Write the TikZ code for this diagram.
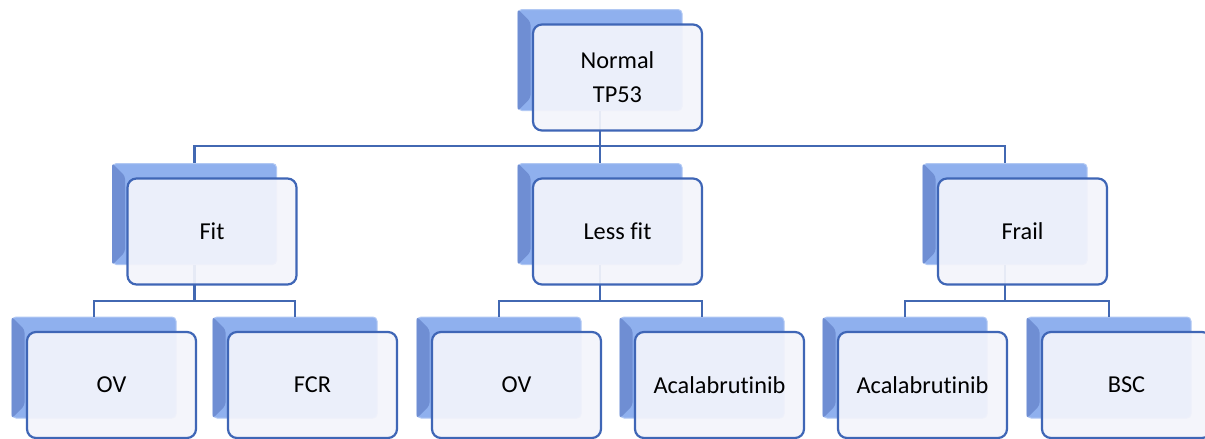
\documentclass[tikz,border=0pt]{standalone}
\usepackage{fontspec}
\setmainfont{Carlito}[Ligatures=NoCommon]
\definecolor{backblue}{HTML}{8FB0EE}
\definecolor{bevelblue}{HTML}{6F8ED3}
\definecolor{edgeblue}{HTML}{3F66B6}
\definecolor{frontfill}{HTML}{F3F4FB}
\definecolor{connblue}{HTML}{4268B2}
\begin{document}
\begin{tikzpicture}[x=1pt,y=-1pt,
  backbox/.style={rectangle, rounded corners=4pt, minimum width=164pt, minimum height=101pt, inner sep=0pt, fill=backblue, draw=backblue!70!white, line width=1pt},
  frontbox/.style={rectangle, rounded corners=9pt, minimum width=169pt, minimum height=106pt, inner sep=0pt, fill=frontfill, fill opacity=0.93, text opacity=1, draw=edgeblue, draw opacity=1, line width=2.2pt, align=center, font=\fontsize{24.3}{27}\selectfont},
  conn/.style={draw=connblue, line width=2.8pt},
  bevel/.style={fill=bevelblue}]
\useasboundingbox (0,0) rectangle (1205,439);
% back boxes
\foreach \n/\x/\y in {topb/600/60, fitb/194.5/214, lessb/600/214, frailb/1005/214,
  ov1b/94/367.5, fcrb/295/367.5, ov2b/499/367.5, aca1b/702/367.5, aca2b/905/367.5, bscb/1109/367.5}{
  \node[backbox] (\n) at (\x,\y) {};
  \fill[bevel, rounded corners=3pt] (\n.north west) -- ([shift={(13,13)}]\n.north west) -- ([shift={(13,-13)}]\n.south west) -- (\n.south west) -- cycle;
}
% connectors
\coordinate (bar1) at (600,146);
\coordinate (bar2) at (194.5,301);
\coordinate (bar3) at (600,301);
\coordinate (bar4) at (1005,301);
\draw[conn] (topb.south) -- (bar1) -| (fitb.north);
\draw[conn] (bar1) -| (lessb.north);
\draw[conn] (bar1) -| (frailb.north);
\draw[conn] (fitb.south) -- (bar2) -| (ov1b.north);
\draw[conn] (bar2) -| (fcrb.north);
\draw[conn] (lessb.south) -- (bar3) -| (ov2b.north);
\draw[conn] (bar3) -| (aca1b.north);
\draw[conn] (frailb.south) -- (bar4) -| (aca2b.north);
\draw[conn] (bar4) -| (bscb.north);
% front boxes
\node[frontbox] (top) at ([shift={(17.5,17.5)}]topb.center) {Normal\\[7pt]TP53};
\node[frontbox] (fit) at ([shift={(17.5,17.5)}]fitb.center) {Fit};
\node[frontbox] (less) at ([shift={(17.5,17.5)}]lessb.center) {Less fit};
\node[frontbox] (frail) at ([shift={(17.5,17.5)}]frailb.center) {Frail};
\node[frontbox] (ov1) at ([shift={(17.5,17.5)}]ov1b.center) {OV};
\node[frontbox] (fcr) at ([shift={(17.5,17.5)}]fcrb.center) {FCR};
\node[frontbox] (ov2) at ([shift={(17.5,17.5)}]ov2b.center) {OV};
\node[frontbox] (aca1) at ([shift={(17.5,17.5)}]aca1b.center) {Acalabrutinib};
\node[frontbox] (aca2) at ([shift={(17.5,17.5)}]aca2b.center) {Acalabrutinib};
\node[frontbox] (bsc) at ([shift={(17.5,17.5)}]bscb.center) {BSC};
\end{tikzpicture}
\end{document}
